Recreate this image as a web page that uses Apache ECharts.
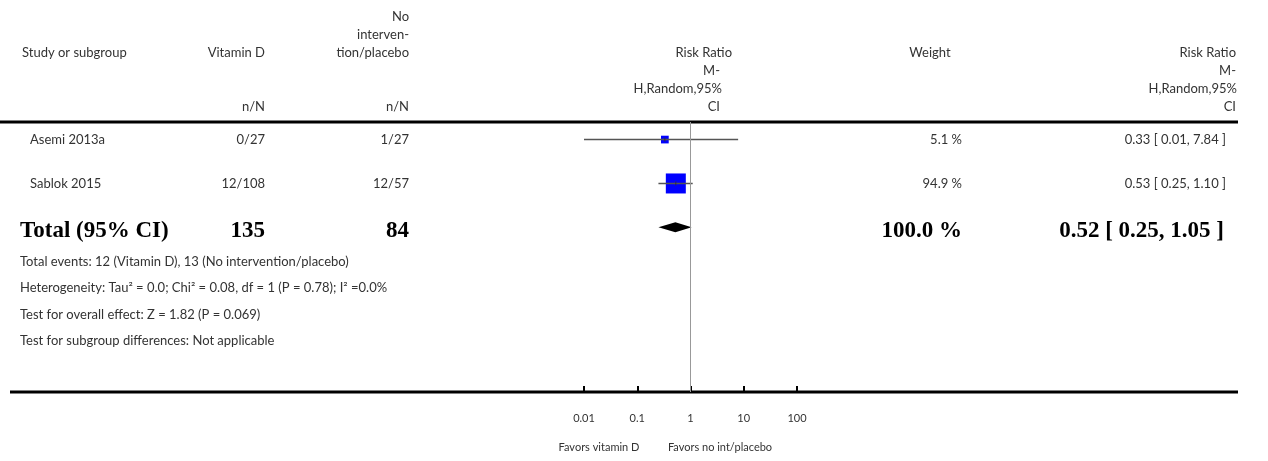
<!DOCTYPE html>
<html><head><meta charset="utf-8">
<script src="https://cdn.jsdelivr.net/npm/echarts@6/dist/echarts.min.js"></script>
<style>html,body{margin:0;padding:0;background:#fff}#c{width:1268px;height:461px}</style>
</head><body><div id="c"></div>
<script>
// ---- data ----
const studies = ['Asemi 2013a', 'Sablok 2015'];
const vitaminD = ['0/27', '12/108'];
const control = ['1/27', '12/57'];
const riskRatio = [0.33, 0.53];
const ciLow = [0.01, 0.25];
const ciHigh = [7.84, 1.10];
const weights = [5.1, 94.9];
const totalLabel = 'Total (95% CI)';
const totalVitaminD = '135';
const totalControl = '84';
const totalWeight = '100.0 %';
const totalRR = 0.52;
const totalLow = 0.25;
const totalHigh = 1.05;
const tickValues = [0.01, 0.1, 1, 10, 100];
const tickLabels = ['0.01', '0.1', '1', '10', '100'];
const footerLines = [
  'Total events: 12 (Vitamin D), 13 (No intervention/placebo)',
  'Heterogeneity: Tau\u00B2 = 0.0; Chi\u00B2 = 0.08, df = 1 (P = 0.78); I\u00B2 =0.0%',
  'Test for overall effect: Z = 1.82 (P = 0.069)',
  'Test for subgroup differences: Not applicable'
];
const favorsLeft = 'Favors vitamin D';
const favorsRight = 'Favors no int/placebo';

const fmt = v => v.toFixed(2);
const ciText = (r, l, h) => fmt(r) + ' [ ' + fmt(l) + ', ' + fmt(h) + ' ]';

const SANS = 'Lato, "DejaVu Sans", sans-serif';
const SERIF = '"Liberation Serif", "DejaVu Serif", serif';
const TXT = '#333';

const chart = echarts.init(document.getElementById('c'), null, {renderer: 'canvas'});
const maxW = Math.max(...weights);

const studyData = studies.map((s, i) => [i, ciLow[i], ciHigh[i], riskRatio[i], weights[i]]);
const totalRow = studies.length;
const totalData = [[totalRow, totalLow, totalHigh, totalRR]];

chart.setOption({
  animation: false,
  grid: {left: 584, width: 213, top: 122, height: 270},
  xAxis: {
    type: 'log', logBase: 10, min: tickValues[0], max: tickValues[tickValues.length - 1],
    position: 'bottom',
    axisLine: {show: false, onZero: false},
    axisTick: {show: true, inside: true, length: 6, lineStyle: {color: '#000', width: 2}},
    axisLabel: {
      margin: 21, fontFamily: SANS, fontSize: 11, color: TXT,
      formatter: v => { const k = Math.round(Math.log10(v)) + 2; return tickLabels[k] ?? ''; }
    },
    splitLine: {show: false}
  },
  yAxis: {type: 'value', inverse: true, min: -0.4, max: 5.75, show: false},
  series: [
    {
      type: 'custom', data: studyData, encode: {x: [1, 2, 3], y: 0},
      renderItem: (params, api) => {
        const i = api.value(0);
        const l = api.coord([api.value(1), i]);
        const h = api.coord([api.value(2), i]);
        const p = api.coord([api.value(3), i]);
        const s = 4 + 16 * Math.sqrt(api.value(4) / maxW);
        return {type: 'group', children: [
          {type: 'rect', shape: {x: p[0] - s / 2, y: p[1] - s / 2, width: s, height: s}, style: {fill: '#0000ff'}},
          {type: 'line', shape: {x1: l[0], y1: l[1], x2: h[0], y2: h[1]}, style: {stroke: '#555', lineWidth: 1.5}},
          {type: 'line', shape: {x1: p[0], y1: p[1] - 2, x2: p[0], y2: p[1] + 2}, style: {stroke: '#333', lineWidth: 1}}
        ]};
      },
      markLine: {
        silent: true, symbol: 'none', label: {show: false},
        lineStyle: {color: '#999', width: 1, type: 'solid'},
        data: [{xAxis: 1}]
      }
    },
    {
      type: 'custom', data: totalData, encode: {x: [1, 2, 3], y: 0},
      renderItem: (params, api) => {
        const i = api.value(0);
        const l = api.coord([api.value(1), i]);
        const h = api.coord([api.value(2), i]);
        const p = api.coord([api.value(3), i]);
        return {type: 'polygon', shape: {points: [[l[0], l[1]], [p[0], p[1] - 5], [h[0], h[1]], [p[0], p[1] + 5]]}, style: {fill: '#000'}};
      }
    }
  ]
});

const rowY = i => chart.convertToPixel({yAxisIndex: 0}, i);
const g = [];
function txt(x, y, text, align, opts) {
  g.push({type: 'text', x: x, y: y, silent: true, style: Object.assign({
    text: text, align: align || 'left', verticalAlign: 'middle',
    font: '13px ' + SANS, fill: TXT
  }, opts || {})});
}
// header
txt(22, 53, 'Study or subgroup');
txt(265, 53, 'Vitamin D', 'right');
txt(409, 17, 'No', 'right');
txt(409, 35, 'interven-', 'right');
txt(409, 53, 'tion/placebo', 'right');
txt(265, 107, 'n/N', 'right');
txt(409, 107, 'n/N', 'right');
txt(732, 53, 'Risk Ratio', 'right');
txt(720, 71, 'M-', 'right');
txt(722, 89, 'H,Random,95%', 'right');
txt(720, 107, 'CI', 'right');
txt(930, 53, 'Weight', 'center');
txt(1236, 53, 'Risk Ratio', 'right');
txt(1236, 71, 'M-', 'right');
txt(1237, 89, 'H,Random,95%', 'right');
txt(1236, 107, 'CI', 'right');
// rule lines
g.push({type: 'rect', shape: {x: 0, y: 120.5, width: 1238, height: 3}, style: {fill: '#000'}, silent: true});
g.push({type: 'rect', shape: {x: 10, y: 390.5, width: 1228, height: 3}, style: {fill: '#000'}, silent: true});
// study rows
studies.forEach((s, i) => {
  const y = rowY(i);
  txt(30, y, s);
  txt(265, y, vitaminD[i], 'right');
  txt(409, y, control[i], 'right');
  txt(962, y, weights[i].toFixed(1) + ' %', 'right');
  txt(1226, y, ciText(riskRatio[i], ciLow[i], ciHigh[i]), 'right');
});
// total row
{
  const y = rowY(totalRow) + 4;
  const b = {font: 'bold 23px ' + SERIF, fill: '#000'};
  txt(20, y, totalLabel, 'left', b);
  txt(265, y, totalVitaminD, 'right', b);
  txt(409, y, totalControl, 'right', b);
  txt(962, y, totalWeight, 'right', b);
  txt(1224, y, ciText(totalRR, totalLow, totalHigh), 'right', b);
}
// footer
footerLines.forEach((t, k) => txt(20, 262 + k * 26.3, t));
// favors
txt(599, 447, favorsLeft, 'center', {font: '11px ' + SANS});
txt(720, 447, favorsRight, 'center', {font: '11px ' + SANS});

chart.setOption({graphic: {elements: g}});
</script>
</body></html>
